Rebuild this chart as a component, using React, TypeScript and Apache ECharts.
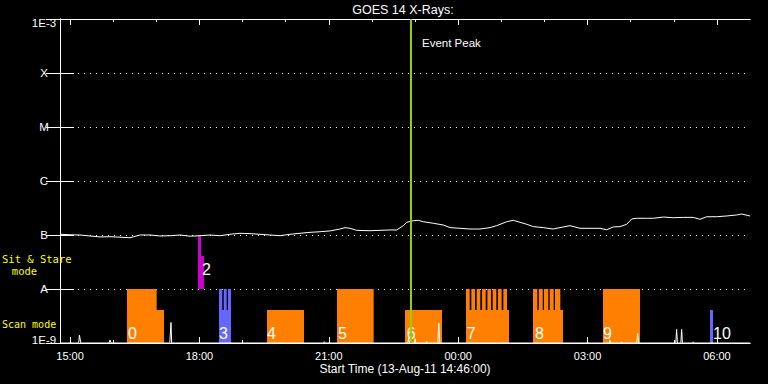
import React, { useEffect, useRef } from 'react';
import * as echarts from 'echarts';

const FONT = '"Liberation Sans", Arial, sans-serif';
const MONO = '"DejaVu Sans Mono", monospace';

// X values are minutes after the start time 13-Aug-11 14:46:00
const xMin = 0;
const xMax = 960;
const xLabelMinutes = [14, 194, 374, 554, 734, 914];
const xLabels = ['15:00', '18:00', '21:00', '00:00', '03:00', '06:00'];
const xHourTickMinutes = [14, 74, 134, 194, 254, 314, 374, 434, 494, 554, 614, 674, 734, 794, 854, 914];
const xAxisTitle = 'Start Time (13-Aug-11 14:46:00)';

// Y axis (log flux, W/m^2)
const yMin = 1e-9;
const yMax = 1e-3;
const yLabelExponents = [-9, -8, -7, -6, -5, -4, -3];
const yLabels = ['1E-9', 'A', 'B', 'C', 'M', 'X', '1E-3'];

const title = 'GOES 14 X-Rays:';

// GOES 1-8 A flux
const fluxMinutes = [
  0, 13.9, 27.8, 41.7, 55.7, 69.6, 83.5, 97.4, 111.3, 125.2, 139.1, 153, 167, 180.9, 194.8, 208.7,
  222.6, 236.5, 250.4, 264.3, 278.3, 292.2, 306.1, 320, 333.9, 347.8, 361.7, 375.7, 389.6, 396.5,
  403.5, 412.8, 431.3, 445.2, 459.1, 468.4, 477.6, 482.4, 491.5, 498.5, 505.5, 519.4, 533.3, 542.6,
  556.5, 570.4, 584.3, 598.3, 607.6, 621.5, 630.7, 640, 649.3, 658.5, 672.4, 686.3, 695.7, 709.6,
  723.5, 737.4, 751.3, 760.6, 769.8, 779.1, 788.5, 795.4, 802.4, 816.3, 825.5, 839.4, 853.3, 867.2,
  881.1, 890.4, 899.7, 913.7, 927.6, 941.5, 948.4, 960,
];
const fluxValues = [
  1.03e-7, 1.01e-7, 1.0e-7, 0.96e-7, 0.92e-7, 0.93e-7, 0.91e-7, 0.89e-7, 1.0e-7, 1.0e-7, 0.96e-7,
  0.97e-7, 1.0e-7, 0.95e-7, 0.97e-7, 1.0e-7, 0.97e-7, 1.03e-7, 1.075e-7, 1.06e-7, 1.03e-7, 1.0e-7,
  0.97e-7, 1.03e-7, 1.075e-7, 1.12e-7, 1.15e-7, 1.19e-7, 1.29e-7, 1.37e-7, 1.33e-7, 1.22e-7, 1.2e-7,
  1.22e-7, 1.24e-7, 1.24e-7, 1.49e-7, 1.72e-7, 1.84e-7, 1.87e-7, 1.76e-7, 1.65e-7, 1.53e-7, 1.37e-7,
  1.33e-7, 1.29e-7, 1.29e-7, 1.37e-7, 1.49e-7, 1.76e-7, 1.87e-7, 1.72e-7, 1.58e-7, 1.43e-7, 1.37e-7,
  1.29e-7, 1.37e-7, 1.49e-7, 1.33e-7, 1.33e-7, 1.33e-7, 1.25e-7, 1.41e-7, 1.43e-7, 1.58e-7, 1.98e-7,
  2.04e-7, 2.04e-7, 2.04e-7, 2.15e-7, 2.09e-7, 2.12e-7, 2.12e-7, 1.95e-7, 2.18e-7, 2.18e-7, 2.25e-7,
  2.35e-7, 2.45e-7, 2.25e-7,
];

// Low channel (mostly at / below 1E-9, with spikes)
const lowMinutes = [
  0, 26, 27, 29, 68.5, 69.6, 71, 152.8, 154.4, 155.4, 366.6, 367.7, 368.8, 484, 485, 486, 493, 494,
  495, 509.2, 510.2, 511.2, 525.6, 527, 528.4, 764.2, 765.2, 766.2, 780.5, 781.5, 782.5, 802.5, 803.7,
  805, 856.8, 857.9, 859, 863.8, 864.9, 866, 880.1, 881.1, 882.1, 960,
];
const lowValues = [
  1e-9, 1e-9, 1.4e-9, 1e-9, 1e-9, 1.14e-9, 1e-9, 1e-9, 2.4e-9, 1e-9, 1e-9, 1.06e-9, 1e-9, 1e-9, 1.24e-9,
  1e-9, 1e-9, 1.2e-9, 1e-9, 1e-9, 1.07e-9, 1e-9, 1e-9, 2.32e-9, 1e-9, 1e-9, 1.14e-9, 1e-9, 1e-9,
  1.05e-9, 1e-9, 1e-9, 1.51e-9, 1e-9, 1e-9, 1.79e-9, 1e-9, 1e-9, 1.79e-9, 1e-9, 1e-9, 1.05e-9, 1e-9,
  1e-9,
];

// Observation blocks: [startMinute, endMinute]
const scanFullLevel = 1e-8;
const scanLowLevel = 4.08e-9;
const scanBase = 1e-9;
const orangeFull = [
  [93.2, 134.5], [385.4, 436.4], [755.5, 807.0],
  [564.9, 570.0], [572.3, 577.4], [579.7, 584.8], [587.2, 592.3], [594.6, 599.7], [602.0, 607.1],
  [609.4, 614.5], [616.8, 621.9],
  [658.1, 664.1], [666.1, 671.7], [673.4, 679.4], [681.3, 686.9], [688.7, 696.1],
];
const orangeLow = [[93.2, 144.7], [288.0, 339.5], [480.0, 531.5], [564.9, 624.7], [658.1, 699.8]];
const blueFull = [[221.2, 225.8], [227.8, 231.9], [233.7, 237.9]];
const blueLow = [[221.2, 237.9], [904.3, 908.5]];
const stareBase = 1e-8;
const stareTall = 1e-7;
const stareShort = 4.08e-8;
const magentaTall = [[192.0, 196.2]];
const magentaShort = [[196.2, 200.3]];

// Block labels
const obsLabels = ['0', '2', '3', '4', '5', '6', '7', '8', '9', '10'];
const obsLabelMinutes = [94.6, 197.6, 221.2, 288.0, 386.8, 482.4, 565.9, 660.9, 755.5, 908.5];
const obsLabelFlux = [1.53e-9, 2.25e-8, 1.53e-9, 1.53e-9, 1.53e-9, 1.53e-9, 1.53e-9, 1.53e-9, 1.53e-9, 1.53e-9];

const eventPeakMinute = 488.3;
const eventPeakText = 'Event Peak';

const COLORS = ['#ff8000', '#6666ff', '#cc00cc'];

export default function App() {
  const ref = useRef<HTMLDivElement>(null);
  useEffect(() => {
    document.body.style.margin = '0';
    document.body.style.background = '#000';
    const chart = echarts.init(ref.current as HTMLDivElement, null, { renderer: 'svg' });

    const blocks: number[][] = [];
    orangeLow.forEach(([s, e]) => blocks.push([s, e, scanLowLevel, scanBase, 0]));
    orangeFull.forEach(([s, e]) => blocks.push([s, e, scanFullLevel, scanBase, 0]));
    blueLow.forEach(([s, e]) => blocks.push([s, e, scanLowLevel, scanBase, 1]));
    blueFull.forEach(([s, e]) => blocks.push([s, e, scanFullLevel, scanBase, 1]));
    magentaTall.forEach(([s, e]) => blocks.push([s, e, stareTall, stareBase, 2]));
    magentaShort.forEach(([s, e]) => blocks.push([s, e, stareShort, stareBase, 2]));

    const baseX: any = {
      type: 'value',
      min: xMin,
      max: xMax,
      axisLine: { show: true, lineStyle: { color: '#fff', width: 1 } },
      splitLine: { show: false },
      axisLabel: { show: false },
    };
    const tick = (len: number, vals: number[]) => ({
      show: true,
      inside: true,
      length: len,
      customValues: vals,
      lineStyle: { color: '#fff', width: 1 },
    });
    const baseY: any = {
      type: 'log',
      logBase: 10,
      min: yMin,
      max: yMax,
      axisLine: { show: true, lineStyle: { color: '#fff', width: 1 } },
      axisTick: { show: true, inside: true, length: 14, lineStyle: { color: '#fff', width: 1 } },
      minorTick: { show: false },
      minorSplitLine: { show: false },
    };

    const option: any = {
      animation: false,
      backgroundColor: '#000',
      grid: { left: 60, top: 19, width: 690, height: 324, containLabel: false },
      xAxis: [
        {
          ...baseX,
          position: 'bottom',
          axisTick: tick(6, xLabelMinutes),
          axisLabel: {
            show: true,
            customValues: xLabelMinutes,
            formatter: (v: number) => {
              const i = xLabelMinutes.indexOf(Math.round(v));
              return i >= 0 ? xLabels[i] : '';
            },
            color: '#fff',
            fontFamily: FONT,
            fontSize: 11,
            margin: 7,
          },
        },
        { ...baseX, position: 'bottom', axisTick: tick(3, xHourTickMinutes) },
        { ...baseX, position: 'top', axisTick: tick(6, xLabelMinutes) },
        { ...baseX, position: 'top', axisTick: tick(3, xHourTickMinutes) },
      ],
      yAxis: [
        {
          ...baseY,
          position: 'left',
          axisLabel: {
            color: '#fff',
            fontFamily: FONT,
            fontSize: 11.5,
            align: 'center',
            margin: 16,
            formatter: (v: number) => {
              const ex = Math.round(Math.log10(v));
              const i = yLabelExponents.indexOf(ex);
              const t = i >= 0 ? yLabels[i] : '';
              if (ex === -3) return '{top|' + t + '}';
              if (ex === -9) return '{bot|' + t + '}';
              return t;
            },
            rich: {
              top: { color: '#fff', fontFamily: FONT, fontSize: 11.5, padding: [8, 0, 0, 0] },
              bot: { color: '#fff', fontFamily: FONT, fontSize: 11.5, padding: [0, 0, 6, 0] },
            },
          },
          splitLine: { show: true, lineStyle: { color: '#fff', type: [1, 5], width: 1 } },
        },
        { ...baseY, position: 'right', axisLabel: { show: false }, splitLine: { show: false } },
      ],
      series: [
        {
          type: 'custom',
          name: 'blocks',
          xAxisIndex: 0,
          yAxisIndex: 0,
          z: 2,
          clip: true,
          encode: { x: [0, 1], y: [2, 3] },
          data: blocks,
          renderItem: (params: any, api: any) => {
            const p1 = api.coord([api.value(0), api.value(2)]);
            const p2 = api.coord([api.value(1), api.value(3)]);
            return {
              type: 'rect',
              shape: { x: p1[0], y: p1[1], width: p2[0] - p1[0], height: p2[1] - p1[1] },
              style: { fill: COLORS[api.value(4)] },
            };
          },
        },
        {
          type: 'custom',
          name: 'labels',
          xAxisIndex: 0,
          yAxisIndex: 0,
          z: 3,
          encode: { x: 0, y: 1 },
          data: obsLabelMinutes.map((m, i) => [m, obsLabelFlux[i], i]),
          renderItem: (params: any, api: any) => {
            const p = api.coord([api.value(0), api.value(1)]);
            return {
              type: 'text',
              x: p[0],
              y: p[1],
              style: {
                text: obsLabels[api.value(2)],
                fill: '#fff',
                font: '16px ' + FONT,
                align: 'left',
                verticalAlign: 'middle',
              },
            };
          },
        },
        {
          type: 'line',
          name: 'low',
          xAxisIndex: 0,
          yAxisIndex: 0,
          z: 4,
          showSymbol: false,
          symbol: 'none',
          clip: true,
          lineStyle: { color: '#fff', width: 1 },
          data: lowMinutes.map((m, i) => [m, lowValues[i]]),
        },
        {
          type: 'line',
          name: 'flux',
          xAxisIndex: 0,
          yAxisIndex: 0,
          z: 4,
          showSymbol: false,
          symbol: 'none',
          clip: true,
          lineStyle: { color: '#fff', width: 1 },
          data: fluxMinutes.map((m, i) => [m, fluxValues[i]]),
        },
        {
          type: 'custom',
          name: 'peak',
          xAxisIndex: 0,
          yAxisIndex: 0,
          z: 5,
          encode: { x: 0, y: 1 },
          data: [[eventPeakMinute, 1e-6]],
          renderItem: (params: any, api: any) => {
            const a = api.coord([api.value(0), yMax]);
            const b = api.coord([api.value(0), yMin]);
            return {
              type: 'line',
              shape: { x1: a[0], y1: a[1], x2: b[0], y2: b[1] },
              style: { stroke: '#9ccf00', lineWidth: 2 },
            };
          },
        },
      ],
      graphic: [
        {
          type: 'text', x: 403, y: 10, z: 10,
          style: { text: title, fill: '#fff', font: '12.5px ' + FONT, align: 'center', verticalAlign: 'middle' },
        },
        {
          type: 'text', x: 422, y: 43, z: 10,
          style: { text: eventPeakText, fill: '#fff', font: '11.5px ' + FONT, align: 'left', verticalAlign: 'middle' },
        },
        {
          type: 'text', x: 2, y: 259, z: 10,
          style: { text: 'Sit & Stare', fill: '#ffff00', font: '10.5px ' + MONO, align: 'left', verticalAlign: 'middle' },
        },
        {
          type: 'text', x: 24.5, y: 271, z: 10,
          style: { text: 'mode', fill: '#ffff00', font: '10.5px ' + MONO, align: 'center', verticalAlign: 'middle' },
        },
        {
          type: 'text', x: 2, y: 324, z: 10,
          style: { text: 'Scan mode', fill: '#ffff00', font: '10px ' + MONO, align: 'left', verticalAlign: 'middle' },
        },
        {
          type: 'text', x: 405, y: 369, z: 10,
          style: { text: xAxisTitle, fill: '#fff', font: '12px ' + FONT, align: 'center', verticalAlign: 'middle' },
        },
      ],
    };
    chart.setOption(option);
    return () => chart.dispose();
  }, []);
  return <div ref={ref} style={{ width: 768, height: 384, background: '#000' }} />;
}
